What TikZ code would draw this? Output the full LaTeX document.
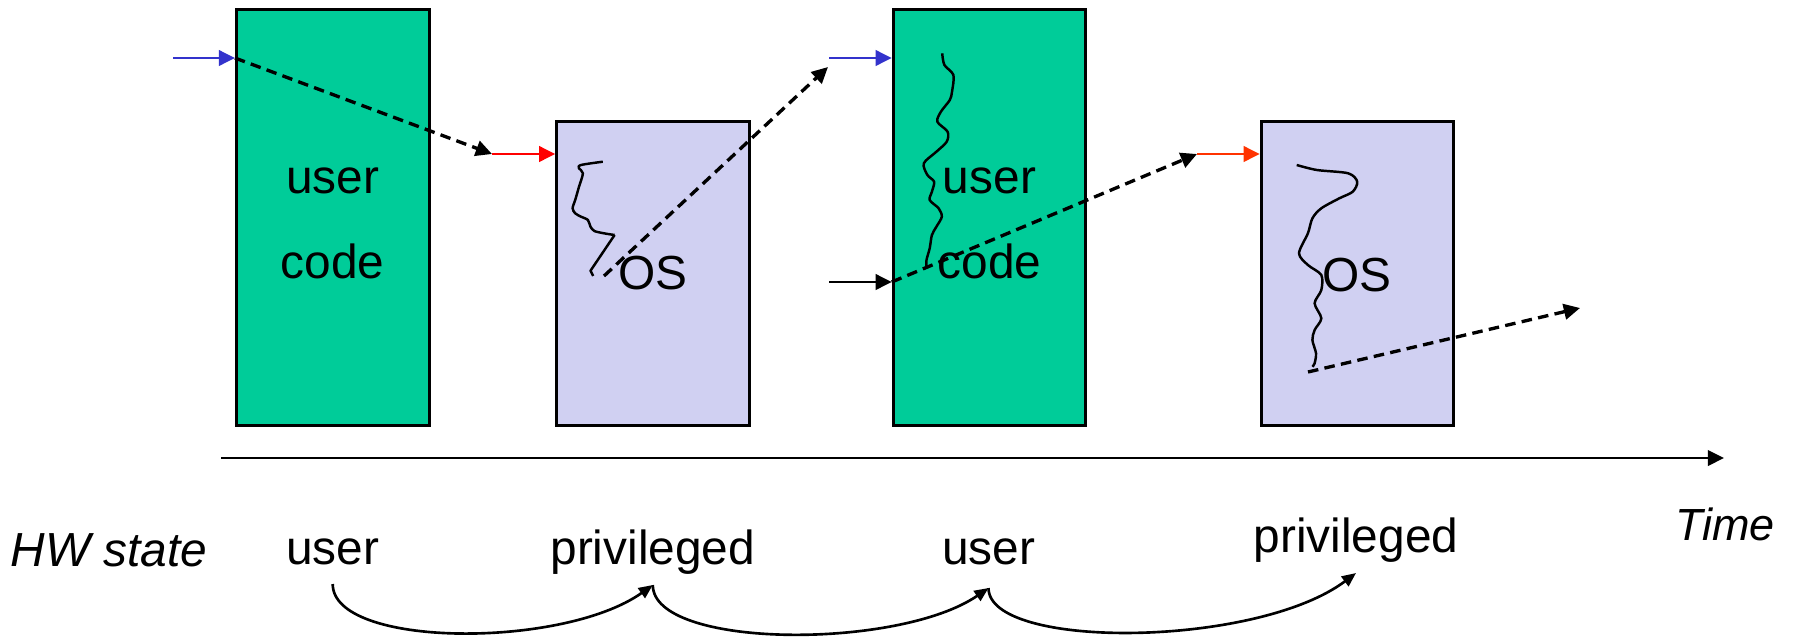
\documentclass[tikz,border=0pt]{standalone}
\usepackage{fontspec}
\setmainfont{Liberation Sans}
\usetikzlibrary{arrows.meta}

\definecolor{usergreen}{RGB}{0,204,153}
\definecolor{oslilac}{RGB}{208,208,242}
\definecolor{entryblue}{RGB}{51,51,204}
\definecolor{traporange}{RGB}{255,51,0}

\tikzstyle{userbox}=[draw, line width=0.85pt, fill=usergreen,
minimum width=1.925cm, minimum height=4.15cm, inner sep=0pt]
\tikzstyle{osbox}=[userbox, fill=oslilac, minimum height=3.035cm]
\tikzstyle{boxtext}=[font=\fontsize{13.6}{16}\selectfont, anchor=base, inner sep=0pt]
\tikzstyle{axistext}=[boxtext, font=\fontsize{13.6}{16}\selectfont\itshape]
\tikzstyle{flow}=[-{Triangle[length=4.6pt,width=4.4pt]}, line width=0.8pt]
\tikzstyle{jump}=[flow, dash pattern=on 3pt off 1.8pt, line width=0.95pt]
\tikzstyle{trace}=[line width=0.7pt, line join=round]
\tikzstyle{switch}=[-{Triangle[length=4pt,width=3.4pt]}, line width=0.75pt]

\begin{document}
\begin{tikzpicture}[x=0.01cm, y=-0.01cm]
\useasboundingbox (0,0) rectangle (1798,636);

% the four time slices
\node[userbox] (user1) at (332.75,217.5) {};
\node[osbox] (os1) at (653,273.25) {};
\node[userbox] (user2) at (989.5,217.5) {};
\node[osbox] (os2) at (1357.5,273.25) {};

\node[boxtext] (user1a) at (332.75,193) {user};
\node[boxtext] (user1b) at (332.75,278) {code};
\node[boxtext] (os1a) at (653,289) {OS};
\node[boxtext] (user2a) at (989.5,193) {user};
\node[boxtext] (user2b) at (989.5,278) {code};
\node[boxtext] (os2a) at (1357,291) {OS};

% execution inside the kernel, first trap
\draw[trace] plot[smooth, tension=0.5] coordinates {(602.8,161.7) (581,165) (579,168.3)
  (582.9,173.3) (579,186.7) (575.2,200) (572.6,208.3) (575.2,213.3) (581,216.7)
  (587.9,220) (590.5,226.7) (594.4,231) (603.9,233.3) (614.6,235)};
\draw[trace] (614.6,235) -- (590.5,270.7) -- (593.2,276);

% user code running again
\draw[trace] plot[smooth, tension=0.5] coordinates {(942.2,53.3) (944.4,65) (953.4,75)
  (952,91.7) (949.8,100) (940.9,111.7) (937.3,121.7) (947.6,131.7) (946.7,141.7)
  (936.4,151.7) (923.8,163.3) (927.4,175) (934.1,181.7) (931.9,191.7) (929.7,200)
  (938.6,208.3) (941.8,216.7) (936.4,226.7) (931.9,235) (929.7,248.3) (926.5,260)
  (926.5,268.3)};

% second trap
\draw[trace] plot[smooth, tension=0.5] coordinates {(1296.7,165) (1316.9,170)
  (1348.2,173.3) (1357.2,181.7) (1352.7,191.7) (1339.3,198.3) (1321.3,208.3)
  (1312.4,218.3) (1307.9,233.3) (1299,253.3) (1307.9,265) (1321.3,275) (1321.3,290)
  (1314.6,303.3) (1321.3,318.3) (1314.6,330) (1312.4,340) (1316,353.3) (1314.6,363.3)
  (1312.4,366.7)};

% control transfers
\coordinate (in1) at (173,58);
\coordinate (trap1) at (492,154);
\coordinate (ret1) at (604,276);
\coordinate (res1) at (828,67);
\coordinate (res1b) at (829,58);
\coordinate (call2) at (829,282);
\coordinate (trap2) at (1197,154);
\coordinate (ret2) at (1308,372);
\coordinate (res2) at (1580,308);

\draw[flow, entryblue] (in1) -- (user1.west |- in1);
\draw[jump] (user1.west |- in1) -- (trap1);
\draw[flow, red] (trap1) -- (os1.west |- trap1);
\draw[jump] (ret1) -- (res1);
\draw[flow, entryblue] (res1b) -- (user2.west |- res1b);
\draw[flow] (call2) -- (user2.west |- call2);
\draw[jump] (user2.west |- call2) -- (trap2);
\draw[flow, traporange] (trap2) -- (os2.west |- trap2);
\draw[jump] (ret2) -- (res2);

% time axis
\coordinate (t0) at (221,458);
\coordinate (t1) at (1724,458);
\draw[flow, line width=0.7pt] (t0) -- (t1);

\node[axistext] (hw) at (109,566) {HW state};
\node[boxtext] (st1) at (332.7,564) {user};
\node[boxtext] (st2) at (652.8,564) {privileged};
\node[boxtext] (st3) at (988.5,564) {user};
\node[boxtext] (st4) at (1356,552) {privileged};
\node[axistext, font=\fontsize{12.8}{14}\selectfont\itshape] (time) at (1725,540) {Time};

% mode switches
\draw[switch] ([yshift=-0.2cm]st1.base) .. controls +(0,64) and +(-90,64) .. ([yshift=-0.21cm]st2.base);
\draw[switch] ([yshift=-0.21cm]st2.base) .. controls +(0,64) and +(-90,62) .. ([yshift=-0.24cm]st3.base);
\draw[switch] ([yshift=-0.24cm]st3.base) .. controls +(0,62) and +(-100,75) .. ([yshift=-0.21cm]st4.base);
\end{tikzpicture}
\end{document}
